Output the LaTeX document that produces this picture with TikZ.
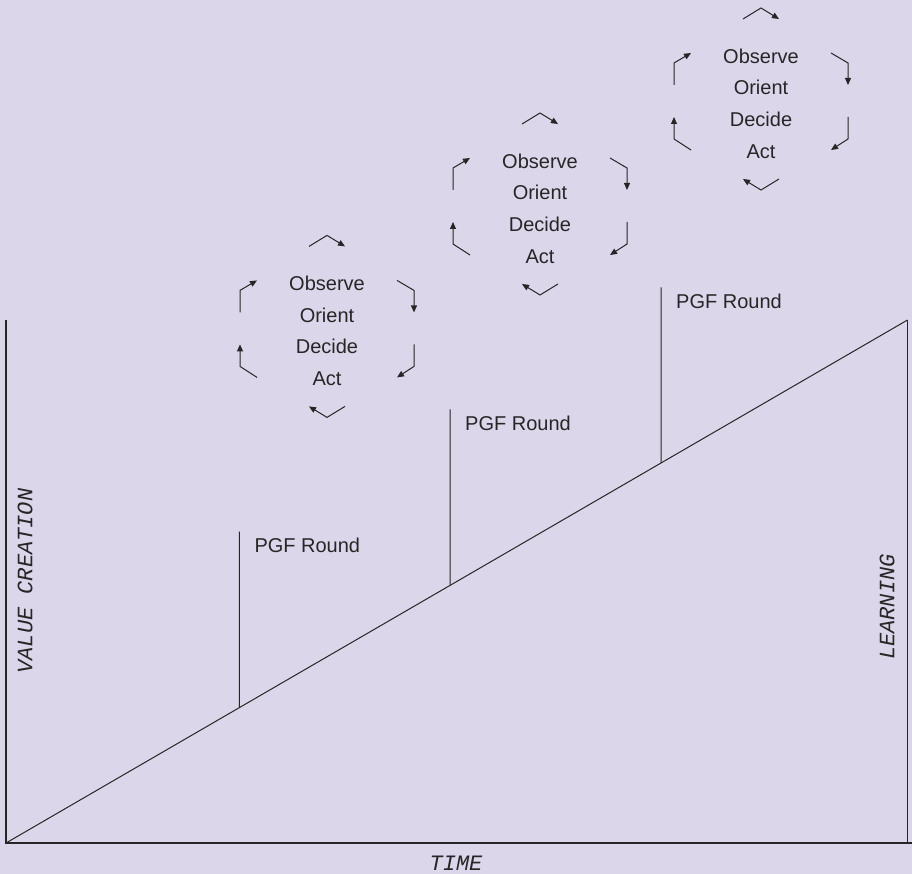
\documentclass[tikz,border=0pt]{standalone}
\usepackage{fontspec}
\setmainfont{Liberation Sans}
\setmonofont{Liberation Mono}
\usepackage{tikz}
\usetikzlibrary{arrows.meta,calc}
\definecolor{lilac}{HTML}{DCD6EB}
\definecolor{ink}{HTML}{262626}

\begin{document}
\begin{tikzpicture}[
  x=1pt, y=-1pt,
  axis/.style={draw=ink, line width=1.3pt},
  trend/.style={draw=ink, line width=1pt},
  turn/.style={-{Triangle[length=7pt,width=6pt]}, line width=1pt, ink},
  oodatext/.style={align=center, inner sep=0pt, text=ink, font=\fontsize{20}{31.7}\selectfont},
  roundlabel/.style={anchor=base west, inner sep=0pt, text=ink, font=\fontsize{20}{24}\selectfont},
  axislabel/.style={inner sep=0pt, text=ink, font=\fontsize{22}{26}\selectfont\ttfamily\itshape}
]
  \fill[lilac] (0,0) rectangle (912,874);
  \useasboundingbox (0,0) rectangle (912,874);
  % axes and the rising line
  \coordinate (origin) at (6,843);
  \coordinate (ytop) at (6,320);
  \coordinate (xend) at (912,843);
  \coordinate (peak) at (907.5,320);
  \coordinate (peakfoot) at (907.5,843);
  \draw[axis] (ytop) -- (origin) -- (xend);
  \draw[axis] (peak) -- (peakfoot);
  \draw[trend] (origin) -- (peak);
  \node[axislabel, rotate=90] (value) at (25,581) {VALUE CREATION};
  \node[axislabel, rotate=90] (learning) at (887,607) {LEARNING};
  \node[axislabel] (time) at (456,863) {TIME};
  % funding rounds
  \foreach \n/\px/\top in {1/239.3/531.7, 2/450/409.3, 3/661/287.5} {
    \coordinate (foot\n) at ($(origin)!{(\px-6)/901.5}!(peak)$);
    \coordinate (tip\n) at (\px,\top);
    \draw[trend] (foot\n) -- (tip\n);
    \node[roundlabel] (round\n) at ($(tip\n)+(15,21)$) {PGF Round};
  }
  % OODA cycles
  \foreach \n/\cx/\cy in {1/327/326.4, 2/540/204, 3/761/99} {
    \begin{scope}[shift={(\cx,\cy)}]
      \coordinate (hub\n) at (0,0);
      \node[oodatext] (ooda\n) at (0,4.5) {Observe\\Orient\\Decide\\Act};
      \draw[turn] (-18,-80) -- (0,-91) -- (18,-80);
      \draw[turn] (70,-46) -- (87,-36) -- (87,-14);
      \draw[turn] (87,18) -- (87,40) -- (70,51);
      \draw[turn] (18,80) -- (0,91) -- (-18,80);
      \draw[turn] (-70,51) -- (-87,40) -- (-87,18);
      \draw[turn] (-87,-14) -- (-87,-36) -- (-70,-46);
    \end{scope}
  }
\end{tikzpicture}
\end{document}
